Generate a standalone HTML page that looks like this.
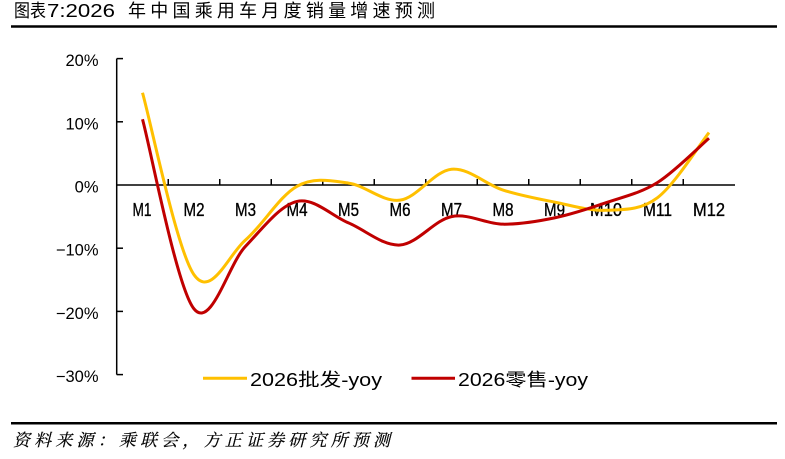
<!DOCTYPE html>
<html>
<head>
<meta charset="utf-8">
<style>
  html, body { margin:0; padding:0; background:#fff; }
  body { width:785px; height:459px; overflow:hidden; }
  svg { display:block; }
  .cjk { font-family:"Liberation Sans","Noto Sans CJK SC",sans-serif; }
</style>
</head>
<body>
<svg width="785" height="459" viewBox="0 0 785 459" xmlns="http://www.w3.org/2000/svg">
  <rect x="0" y="0" width="785" height="459" fill="#fff"/>

  <!-- Title -->
  <g class="cjk" fill="#000" font-size="18">
    <text x="14" y="17" textLength="32" lengthAdjust="spacingAndGlyphs">图表</text>
    <text x="47" y="17" textLength="68" lengthAdjust="spacingAndGlyphs">7:2026</text>
    <text x="128" y="17" textLength="307" lengthAdjust="spacing">年中国乘用车月度销量增速预测</text>
  </g>
  <line x1="11" y1="26.5" x2="777" y2="26.5" stroke="#000" stroke-width="2.5"/>

  <!-- Y axis labels -->
  <g font-family="Liberation Sans, sans-serif" font-size="16.5" fill="#000" text-anchor="end">
    <text x="98.5" y="66">20%</text>
    <text x="98.5" y="129.3">10%</text>
    <text x="98.5" y="192.5">0%</text>
    <text x="98.5" y="255.7">−10%</text>
    <text x="98.5" y="318.9">−20%</text>
    <text x="98.5" y="382.1">−30%</text>
  </g>

  <!-- Axes -->
  <g stroke="#000" stroke-width="1.5" fill="none">
    <line x1="116.7" y1="58.6" x2="116.7" y2="374.6"/>
    <line x1="116.7" y1="58.6" x2="123" y2="58.6"/>
    <line x1="116.7" y1="121.8" x2="123" y2="121.8"/>
    <line x1="116.7" y1="248.2" x2="123" y2="248.2"/>
    <line x1="116.7" y1="311.4" x2="123" y2="311.4"/>
    <line x1="116.7" y1="374.6" x2="123" y2="374.6"/>
    <line x1="116.7" y1="185" x2="735" y2="185"/>
    <line x1="168.25" y1="179" x2="168.25" y2="185"/>
    <line x1="219.75" y1="179" x2="219.75" y2="185"/>
    <line x1="271.25" y1="179" x2="271.25" y2="185"/>
    <line x1="322.75" y1="179" x2="322.75" y2="185"/>
    <line x1="374.25" y1="179" x2="374.25" y2="185"/>
    <line x1="425.75" y1="179" x2="425.75" y2="185"/>
    <line x1="477.25" y1="179" x2="477.25" y2="185"/>
    <line x1="528.75" y1="179" x2="528.75" y2="185"/>
    <line x1="580.25" y1="179" x2="580.25" y2="185"/>
    <line x1="631.75" y1="179" x2="631.75" y2="185"/>
    <line x1="683.25" y1="179" x2="683.25" y2="185"/>
  </g>

  <!-- X labels -->
  <g font-family="Liberation Sans, sans-serif" font-size="18.5" fill="#000" stroke="#000" stroke-width="0.35">
    <text x="132.5" y="216" textLength="19" lengthAdjust="spacingAndGlyphs">M1</text>
    <text x="183.5" y="216" textLength="21" lengthAdjust="spacingAndGlyphs">M2</text>
    <text x="235" y="216" textLength="21" lengthAdjust="spacingAndGlyphs">M3</text>
    <text x="286.5" y="216" textLength="21" lengthAdjust="spacingAndGlyphs">M4</text>
    <text x="338" y="216" textLength="21" lengthAdjust="spacingAndGlyphs">M5</text>
    <text x="389.5" y="216" textLength="21" lengthAdjust="spacingAndGlyphs">M6</text>
    <text x="441" y="216" textLength="21" lengthAdjust="spacingAndGlyphs">M7</text>
    <text x="492.5" y="216" textLength="21" lengthAdjust="spacingAndGlyphs">M8</text>
    <text x="544" y="216" textLength="21" lengthAdjust="spacingAndGlyphs">M9</text>
    <text x="590" y="216" textLength="32" lengthAdjust="spacingAndGlyphs">M10</text>
    <text x="643" y="216" textLength="29" lengthAdjust="spacingAndGlyphs">M11</text>
    <text x="693" y="216" textLength="32" lengthAdjust="spacingAndGlyphs">M12</text>
  </g>

  <!-- Series: 批发 (yellow) -->
  <path fill="none" stroke="#FFC000" stroke-width="3" stroke-linecap="butt" stroke-linejoin="round"
    d="M 142.5 92.73
       C 151.08 123.07, 176.83 250.2, 194 274.74
       C 211.17 299.28, 228.33 254.73, 245.5 239.98
       C 262.67 225.23, 279.83 195.74, 297 186.26
       C 314.17 176.78, 331.33 180.78, 348.5 183.10
       C 365.67 185.42, 382.83 202.49, 400 200.17
       C 417.17 197.85, 434.33 170.89, 451.5 169.20
       C 468.67 167.51, 485.83 184.58, 503 190.06
       C 520.17 195.54, 537.33 198.69, 554.5 202.06
       C 571.67 205.43, 588.83 211.02, 606 210.28
       C 623.17 209.54, 640.33 210.60, 657.5 197.64
       C 674.67 184.68, 700.42 143.39, 709 132.54"/>

  <!-- Series: 零售 (red) -->
  <path fill="none" stroke="#C00000" stroke-width="3" stroke-linecap="butt" stroke-linejoin="round"
    d="M 142.5 119.27
       C 151.08 150.87, 176.83 287.70, 194 308.87
       C 211.17 330.04, 228.33 264.21, 245.5 246.30
       C 262.67 228.39, 279.83 205.33, 297 201.43
       C 314.17 197.53, 331.33 215.65, 348.5 222.92
       C 365.67 230.19, 382.83 246.09, 400 245.04
       C 417.17 243.99, 434.33 220.08, 451.5 216.60
       C 468.67 213.12, 485.83 223.97, 503 224.18
       C 520.17 224.39, 537.33 221.44, 554.5 217.86
       C 571.67 214.28, 588.83 208.60, 606 202.70
       C 623.17 196.80, 640.33 193.22, 657.5 182.47
       C 674.67 171.72, 700.42 145.60, 709 138.23"/>

  <!-- Legend -->
  <line x1="203" y1="378.3" x2="247" y2="378.3" stroke="#FFC000" stroke-width="3"/>
  <text class="cjk" x="250" y="386" font-size="18" fill="#000" textLength="132" lengthAdjust="spacingAndGlyphs">2026批发-yoy</text>
  <line x1="411.5" y1="378.3" x2="455" y2="378.3" stroke="#C00000" stroke-width="3"/>
  <text class="cjk" x="458" y="386" font-size="18" fill="#000" textLength="130" lengthAdjust="spacingAndGlyphs">2026零售-yoy</text>

  <!-- Bottom rule and source -->
  <line x1="11" y1="423.3" x2="777" y2="423.3" stroke="#000" stroke-width="2.5"/>
  <text x="13" y="446" font-family="Liberation Serif, 'Noto Serif CJK SC', serif" font-style="italic" font-size="17" fill="#000" stroke="#000" stroke-width="0.2" textLength="377" lengthAdjust="spacing">资料来源：乘联会，方正证券研究所预测</text>
</svg>
</body>
</html>
